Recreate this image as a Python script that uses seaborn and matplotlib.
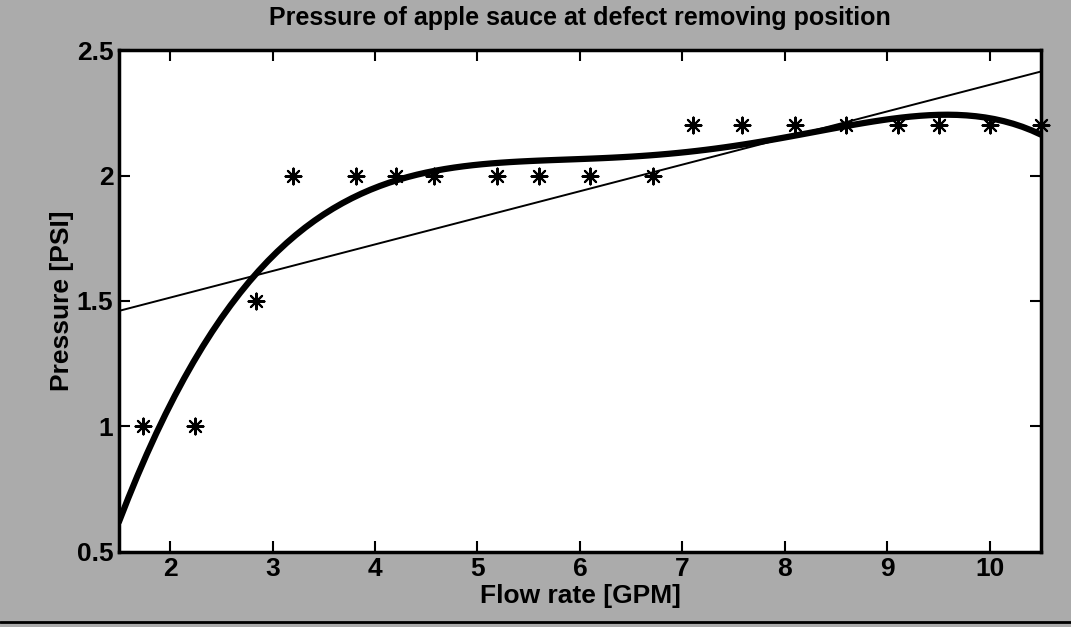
import numpy as np
import pandas as pd
import matplotlib
matplotlib.use("Agg")
import matplotlib.pyplot as plt
from matplotlib.lines import Line2D
import seaborn as sns

flow = [1.74, 2.24, 2.84, 3.20, 3.81, 4.20, 4.58, 5.19, 5.60, 6.10, 6.71,
        7.10, 7.58, 8.10, 8.60, 9.10, 9.50, 10.00, 10.50]
pressure = [1.0, 1.0, 1.5, 2.0, 2.0, 2.0, 2.0, 2.0, 2.0, 2.0, 2.0,
            2.2, 2.2, 2.2, 2.2, 2.2, 2.2, 2.2, 2.2]

x_ticks = [2, 3, 4, 5, 6, 7, 8, 9, 10]
y_ticks = [0.5, 1, 1.5, 2, 2.5]
y_ticklabels = ["0.5", "1", "1.5", "2", "2.5"]

df = pd.DataFrame({"flow": flow, "pressure": pressure})

sns.set_style("ticks")
plt.rcParams["font.family"] = ["Liberation Sans Narrow", "Liberation Sans", "DejaVu Sans"]
plt.rcParams["font.weight"] = "bold"
plt.rcParams["text.color"] = "black"
plt.rcParams["axes.labelcolor"] = "black"

bg = "#ababab"
fig = plt.figure(figsize=(10.71, 6.27), dpi=100, facecolor=bg)
ax = fig.add_axes([0.111, 0.120, 0.861, 0.800])
ax.set_facecolor("white")
ax.set_xlim(1.5, 10.5)
ax.set_ylim(0.5, 2.5)

# linear fit (thin) and polynomial fit (thick)
sns.regplot(data=df, x="flow", y="pressure", order=1, ci=None, truncate=False,
            scatter=False, ax=ax, line_kws={"color": "black", "lw": 1.4})
sns.regplot(data=df, x="flow", y="pressure", order=5, ci=None, truncate=False,
            scatter=False, ax=ax, line_kws={"color": "black", "lw": 4.5})
sns.scatterplot(data=df, x="flow", y="pressure", marker=(8, 2, 0), s=130,
                color="black", linewidth=1.5, ax=ax, zorder=5, clip_on=False)

ax.set_xlim(1.5, 10.5)
ax.set_ylim(0.5, 2.5)
ax.set_xticks(x_ticks)
ax.set_yticks(y_ticks)
ax.set_yticklabels(y_ticklabels)
ax.tick_params(direction="in", length=8, width=1.5, top=True, right=True,
               labelsize=19, pad=4, colors="black")
for s in ax.spines.values():
    s.set_linewidth(2.5)
    s.set_color("black")

ax.set_title("Pressure of apple sauce at defect removing position",
             fontsize=18, fontweight="bold", pad=18, color="black")
ax.set_xlabel("Flow rate [GPM]", fontsize=19, fontweight="bold", labelpad=2,
              color="black")
ax.set_ylabel("Pressure [PSI]", fontsize=19, fontweight="bold", labelpad=2,
              color="black")

fig.add_artist(Line2D([0, 1], [0.008, 0.008], transform=fig.transFigure,
                      color="black", lw=2))

fig.savefig("out.png", dpi=100, facecolor=bg)
